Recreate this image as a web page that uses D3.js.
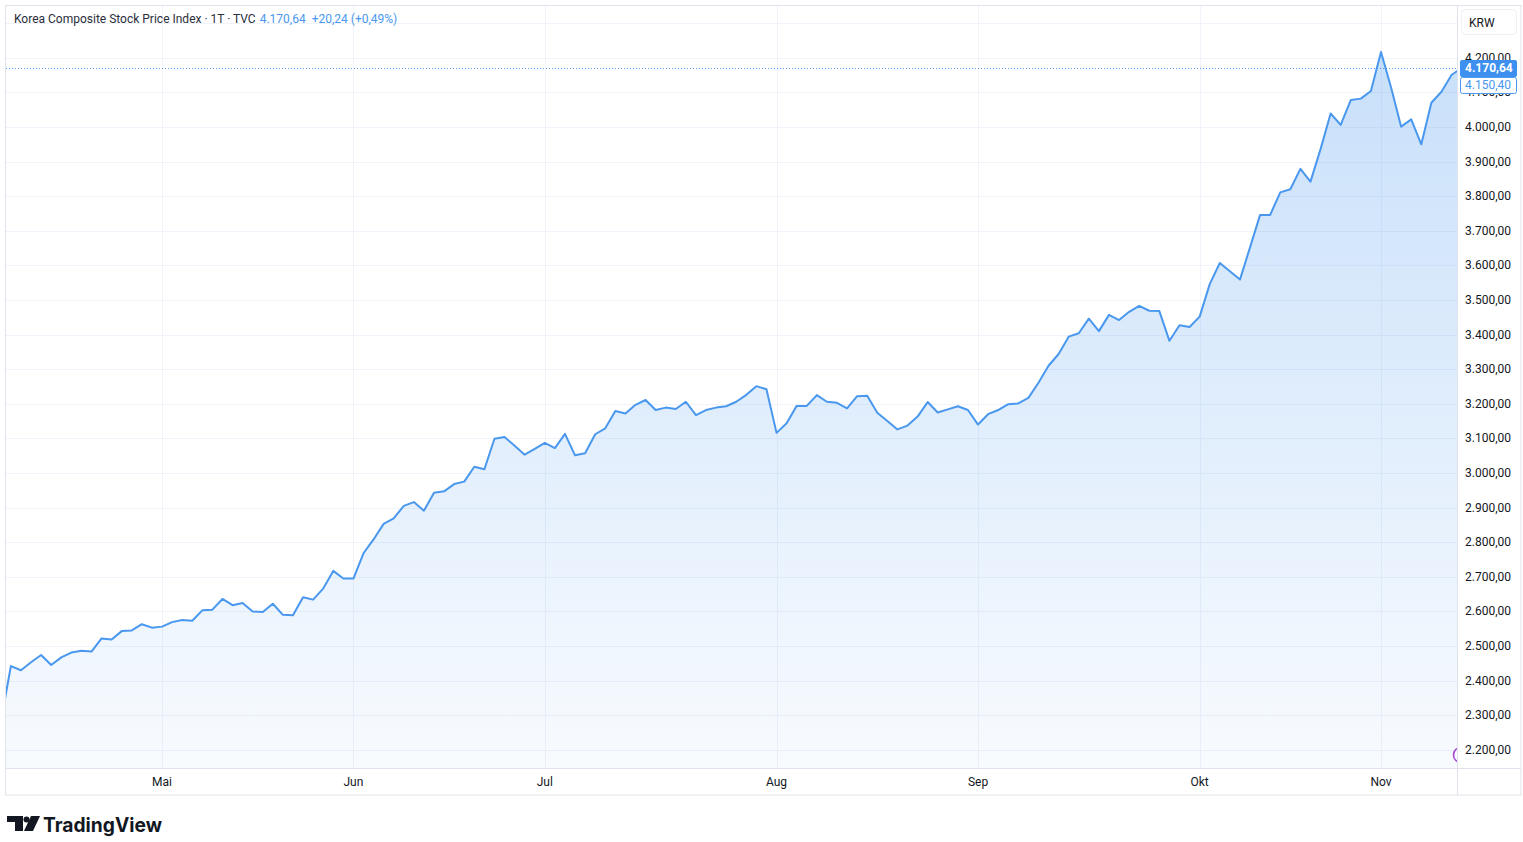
<!DOCTYPE html>
<html>
<head>
<meta charset="utf-8">
<script src="https://cdn.jsdelivr.net/npm/d3@7"></script>
<style>
  html, body { margin: 0; padding: 0; background: #ffffff; }
  svg { display: block; font-family: "Trebuchet MS", Roboto, "Noto Sans", sans-serif; }
</style>
</head>
<body>
<svg id="chart" width="1523" height="842"></svg>
<script>
// ---------- DATA ----------
const title = "Korea Composite Stock Price Index · 1T · TVC";
const lastPriceText = "4.170,64";
const changeText = "+20,24 (+0,49%)";
const currency = "KRW";

// daily closes (trading-day index 0 = 9 Apr 2025 ... 145 = 13 Nov 2025)
const closes = [
  2280, 2442, 2430, 2453, 2474, 2445, 2467, 2481, 2486, 2484,
  2522, 2519, 2543, 2545, 2563, 2553, 2556, 2569, 2575, 2573,
  2603, 2605, 2636, 2618, 2624, 2600, 2598, 2622, 2590, 2589,
  2641, 2634, 2666, 2717, 2695, 2695, 2768, 2808, 2853, 2869,
  2905, 2916, 2891, 2943, 2947, 2968, 2975, 3018, 3011, 3099,
  3104, 3079, 3053, 3070, 3087, 3072, 3113, 3051, 3057, 3112,
  3129, 3179, 3172, 3197, 3211, 3182, 3189, 3185, 3206, 3167,
  3182, 3189, 3193, 3206, 3226, 3251, 3242, 3116, 3144, 3194,
  3194, 3225, 3206, 3203, 3187, 3222, 3223, 3174, 3150, 3126,
  3137, 3163, 3205, 3175, 3184, 3193, 3182, 3140, 3170, 3182,
  3199, 3201, 3217, 3261, 3310, 3344, 3394, 3404, 3446, 3410,
  3457, 3442, 3466, 3483, 3469, 3468, 3382, 3427, 3422, 3452,
  3546, 3607, 3583, 3559, 3652, 3746, 3746, 3811, 3820, 3879,
  3842, 3936, 4039, 4006, 4078, 4082, 4104, 4217, 4114, 4001,
  4022, 3950, 4070, 4102, 4150.40, 4170.64
];
const lastClose = 4170.64;
const prevClose = 4150.40;

// month ticks: label and index of the first trading day of that month
const monthLabels  = ["Mai", "Jun", "Jul", "Aug", "Sep", "Okt", "Nov"];
const monthIndices = [16, 35, 54, 77, 97, 119, 137];

// price grid levels
const priceTicks = [2200, 2300, 2400, 2500, 2600, 2700, 2800, 2900, 3000, 3100,
                    3200, 3300, 3400, 3500, 3600, 3700, 3800, 3900, 4000, 4100, 4200, 4300];
const labelledMax = 4200;

// ---------- LAYOUT ----------
const W = 1523, H = 842;
const plot = { left: 6, top: 6, right: 1457, bottom: 768 };
const axisRight = 1521, axisBottom = 795;

const lineColor = "#4a98ee";
const gridColor = "#f0f3fa";
const borderColor = "#e0e3eb";
const textColor = "#131722";

const locale = d3.formatLocale({ decimal: ",", thousands: ".", grouping: [3], currency: ["", ""] });
const fmt = locale.format(",.2f");

const svg = d3.select("#chart");

const x = d3.scaleLinear().domain([16, 137]).range([162, 1381]);
const y = d3.scaleLinear().domain([2200, 4200]).range([749.8, 57.8]);

// defs
const defs = svg.append("defs");
defs.append("clipPath").attr("id", "plotClip")
  .append("rect").attr("x", plot.left).attr("y", plot.top)
  .attr("width", plot.right - plot.left).attr("height", plot.bottom - plot.top);

const grad = defs.append("linearGradient").attr("id", "areaGrad")
  .attr("gradientUnits", "userSpaceOnUse")
  .attr("x1", 0).attr("x2", 0).attr("y1", y(4200)).attr("y2", plot.bottom);
grad.append("stop").attr("offset", "0%").attr("stop-color", lineColor).attr("stop-opacity", 0.30);
grad.append("stop").attr("offset", "100%").attr("stop-color", lineColor).attr("stop-opacity", 0.04);

// background
svg.append("rect").attr("width", W).attr("height", H).attr("fill", "#ffffff");

// grid
const gGrid = svg.append("g").attr("clip-path", "url(#plotClip)");
gGrid.selectAll("line.h").data(priceTicks).join("line")
  .attr("x1", plot.left).attr("x2", plot.right)
  .attr("y1", d => Math.round(y(d)) + 0.5).attr("y2", d => Math.round(y(d)) + 0.5)
  .attr("stroke", gridColor).attr("stroke-width", 1);
gGrid.selectAll("line.v").data(monthIndices).join("line")
  .attr("x1", d => Math.round(x(d)) + 0.5).attr("x2", d => Math.round(x(d)) + 0.5)
  .attr("y1", plot.top).attr("y2", plot.bottom)
  .attr("stroke", gridColor).attr("stroke-width", 1);

// area + line
const gData = svg.append("g").attr("clip-path", "url(#plotClip)");
const area = d3.area().x((d, i) => x(i)).y0(plot.bottom).y1(d => y(d));
const line = d3.line().x((d, i) => x(i)).y(d => y(d));
gData.append("path").datum(closes).attr("d", area).attr("fill", "url(#areaGrad)");
gData.append("path").datum(closes).attr("d", line)
  .attr("fill", "none").attr("stroke", lineColor).attr("stroke-width", 2)
  .attr("stroke-linejoin", "round");

// last-price dotted line
gData.append("line")
  .attr("x1", plot.left).attr("x2", plot.right)
  .attr("y1", Math.round(y(lastClose)) + 0.5).attr("y2", Math.round(y(lastClose)) + 0.5)
  .attr("stroke", lineColor).attr("stroke-width", 1).attr("stroke-dasharray", "1 2");

// purple event marker (partially visible at the right edge)
gData.append("circle").attr("cx", plot.right + 4).attr("cy", y(2185))
  .attr("r", 7.5).attr("fill", "none").attr("stroke", "#a64bd6").attr("stroke-width", 1.6);

// borders
svg.append("rect").attr("x", 5.5).attr("y", 5.5).attr("width", axisRight - 5.5).attr("height", axisBottom - 5.5)
  .attr("fill", "none").attr("stroke", borderColor);
svg.append("line").attr("x1", plot.right + 0.5).attr("x2", plot.right + 0.5).attr("y1", 5.5).attr("y2", axisBottom)
  .attr("stroke", borderColor);
svg.append("line").attr("x1", 5.5).attr("x2", axisRight).attr("y1", plot.bottom + 0.5).attr("y2", plot.bottom + 0.5)
  .attr("stroke", borderColor);

// price axis labels
svg.append("g").selectAll("text").data(priceTicks.filter(d => d <= labelledMax)).join("text")
  .attr("x", 1465).attr("y", d => y(d) + 4)
  .attr("font-size", 12).attr("fill", textColor)
  .text(d => fmt(d));

// last/prev price labels
const lp = svg.append("g");
lp.append("rect").attr("x", 1460.5).attr("y", y(prevClose) + 2.5).attr("width", 56).attr("height", 16)
  .attr("rx", 2).attr("fill", "#ffffff").attr("stroke", lineColor);
lp.append("text").attr("x", 1465).attr("y", y(prevClose) + 14.5)
  .attr("font-size", 12).attr("fill", lineColor).text(fmt(prevClose));
lp.append("rect").attr("x", 1460).attr("y", y(lastClose) - 8).attr("width", 57).attr("height", 17)
  .attr("rx", 2).attr("fill", "#3d8ff0");
lp.append("text").attr("x", 1465).attr("y", y(lastClose) + 4.5)
  .attr("font-size", 12).attr("font-weight", "bold").attr("fill", "#ffffff").text(fmt(lastClose));

// currency box
svg.append("rect").attr("x", 1461.5).attr("y", 9.5).attr("width", 55).attr("height", 25).attr("rx", 4)
  .attr("fill", "#ffffff").attr("stroke", "#eef0f4");
svg.append("text").attr("x", 1469).attr("y", 26.5).attr("font-size", 12).attr("fill", textColor).text(currency);

// time axis labels
svg.append("g").selectAll("text").data(monthLabels).join("text")
  .attr("x", (d, i) => x(monthIndices[i])).attr("y", 786)
  .attr("text-anchor", "middle").attr("font-size", 12).attr("fill", textColor)
  .text(d => d);

// header
const hdr = svg.append("text").attr("x", 14).attr("y", 23).attr("font-size", 12);
hdr.append("tspan").attr("fill", "#2a2e39").text(title);
hdr.append("tspan").attr("dx", 4).attr("fill", lineColor).text(lastPriceText);
hdr.append("tspan").attr("dx", 6).attr("fill", lineColor).text(changeText);

// TradingView logo
const logo = svg.append("g").attr("fill", "#131722");
logo.append("path").attr("d", "M7,816 H23 V831 H15 V822 H7 Z");
logo.append("circle").attr("cx", 26.5).attr("cy", 819.5).attr("r", 3);
logo.append("path").attr("d", "M31,816 H40 L33,831 H24 Z");
svg.append("text").attr("x", 43).attr("y", 831.5).attr("font-size", 20).attr("font-weight", "bold")
  .attr("fill", "#131722").attr("font-family", "Inter, Roboto, sans-serif")
  .attr("textLength", 119).attr("lengthAdjust", "spacingAndGlyphs").text("TradingView");
</script>
</body>
</html>
